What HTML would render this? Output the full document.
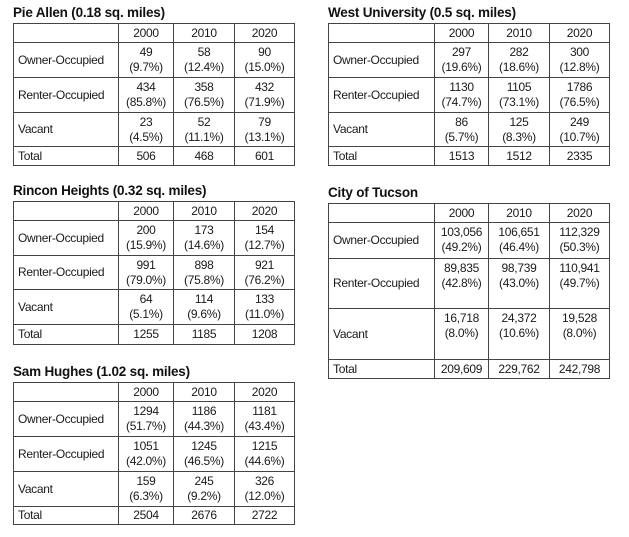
<!DOCTYPE html>
<html><head><meta charset="utf-8"><style>
body{margin:0;width:629px;height:537px;background:#fff;position:relative;font-family:"Liberation Sans",sans-serif;color:#1a1a1a;overflow:hidden}
.t{position:absolute;font-weight:bold;font-size:13.5px;color:#111;letter-spacing:-0.2px}
table{position:absolute;border-collapse:collapse;table-layout:fixed;font-size:12px;letter-spacing:-0.3px}
td{border:1.5px solid #444;padding:0;text-align:center;line-height:15px;vertical-align:top;padding-top:2px;box-sizing:border-box}
td:first-child{text-align:left;padding-left:4px;vertical-align:middle;padding-top:0}
tr.h td,tr.s td{vertical-align:middle;padding-top:0}
</style></head><body>

<div class="t" style="left:13px;top:5px">Pie Allen (0.18 sq. miles)</div>
<table style="left:13px;top:23px;width:281px">
<colgroup><col style="width:105px"><col style="width:55px"><col style="width:61px"><col style="width:60px"></colgroup>
<tr class="h" style="height:19px"><td></td><td>2000</td><td>2010</td><td>2020</td></tr>
<tr style="height:35px"><td>Owner-Occupied</td><td>49<br>(9.7%)</td><td>58<br>(12.4%)</td><td>90<br>(15.0%)</td></tr>
<tr style="height:35px"><td>Renter-Occupied</td><td>434<br>(85.8%)</td><td>358<br>(76.5%)</td><td>432<br>(71.9%)</td></tr>
<tr style="height:34px"><td>Vacant</td><td>23<br>(4.5%)</td><td>52<br>(11.1%)</td><td>79<br>(13.1%)</td></tr>
<tr class="s" style="height:19px"><td>Total</td><td>506</td><td>468</td><td>601</td></tr>
</table>

<div class="t" style="left:328px;top:5px">West University (0.5 sq. miles)</div>
<table style="left:328px;top:23px;width:281px">
<colgroup><col style="width:106px"><col style="width:54px"><col style="width:61px"><col style="width:60px"></colgroup>
<tr class="h" style="height:19px"><td></td><td>2000</td><td>2010</td><td>2020</td></tr>
<tr style="height:35px"><td>Owner-Occupied</td><td>297<br>(19.6%)</td><td>282<br>(18.6%)</td><td>300<br>(12.8%)</td></tr>
<tr style="height:35px"><td>Renter-Occupied</td><td>1130<br>(74.7%)</td><td>1105<br>(73.1%)</td><td>1786<br>(76.5%)</td></tr>
<tr style="height:34px"><td>Vacant</td><td>86<br>(5.7%)</td><td>125<br>(8.3%)</td><td>249<br>(10.7%)</td></tr>
<tr class="s" style="height:19px"><td>Total</td><td>1513</td><td>1512</td><td>2335</td></tr>
</table>

<div class="t" style="left:13px;top:183px">Rincon Heights (0.32 sq. miles)</div>
<table style="left:13px;top:201px;width:281px">
<colgroup><col style="width:105px"><col style="width:55px"><col style="width:61px"><col style="width:60px"></colgroup>
<tr class="h" style="height:19px"><td></td><td>2000</td><td>2010</td><td>2020</td></tr>
<tr style="height:35px"><td>Owner-Occupied</td><td>200<br>(15.9%)</td><td>173<br>(14.6%)</td><td>154<br>(12.7%)</td></tr>
<tr style="height:34px"><td>Renter-Occupied</td><td>991<br>(79.0%)</td><td>898<br>(75.8%)</td><td>921<br>(76.2%)</td></tr>
<tr style="height:35px"><td>Vacant</td><td>64<br>(5.1%)</td><td>114<br>(9.6%)</td><td>133<br>(11.0%)</td></tr>
<tr class="s" style="height:20px"><td>Total</td><td>1255</td><td>1185</td><td>1208</td></tr>
</table>

<div class="t" style="left:328px;top:185px">City of Tucson</div>
<table style="left:328px;top:203px;width:281px">
<colgroup><col style="width:106px"><col style="width:54px"><col style="width:61px"><col style="width:60px"></colgroup>
<tr class="h" style="height:19px"><td></td><td>2000</td><td>2010</td><td>2020</td></tr>
<tr style="height:36px"><td>Owner-Occupied</td><td>103,056<br>(49.2%)</td><td>106,651<br>(46.4%)</td><td>112,329<br>(50.3%)</td></tr>
<tr style="height:50px"><td style="padding-top:0">Renter-Occupied</td><td>89,835<br>(42.8%)</td><td>98,739<br>(43.0%)</td><td>110,941<br>(49.7%)</td></tr>
<tr style="height:51px"><td style="padding-top:0">Vacant</td><td>16,718<br>(8.0%)</td><td>24,372<br>(10.6%)</td><td>19,528<br>(8.0%)</td></tr>
<tr class="s" style="height:19px"><td>Total</td><td>209,609</td><td>229,762</td><td>242,798</td></tr>
</table>

<div class="t" style="left:13px;top:364px">Sam Hughes (1.02 sq. miles)</div>
<table style="left:13px;top:382px;width:281px">
<colgroup><col style="width:105px"><col style="width:55px"><col style="width:61px"><col style="width:60px"></colgroup>
<tr class="h" style="height:19px"><td></td><td>2000</td><td>2010</td><td>2020</td></tr>
<tr style="height:35px"><td>Owner-Occupied</td><td>1294<br>(51.7%)</td><td>1186<br>(44.3%)</td><td>1181<br>(43.4%)</td></tr>
<tr style="height:35px"><td>Renter-Occupied</td><td>1051<br>(42.0%)</td><td>1245<br>(46.5%)</td><td>1215<br>(44.6%)</td></tr>
<tr style="height:35px"><td>Vacant</td><td>159<br>(6.3%)</td><td>245<br>(9.2%)</td><td>326<br>(12.0%)</td></tr>
<tr class="s" style="height:18px"><td>Total</td><td>2504</td><td>2676</td><td>2722</td></tr>
</table>

</body></html>
